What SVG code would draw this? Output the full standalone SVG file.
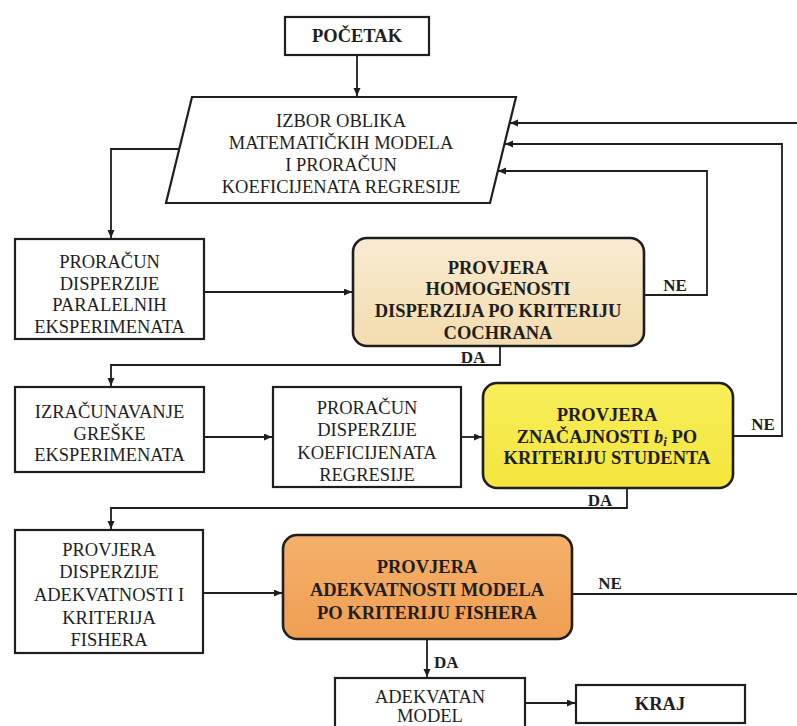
<svg xmlns="http://www.w3.org/2000/svg" width="797" height="726" viewBox="0 0 797 726">
<defs>
<marker id="arr" markerUnits="userSpaceOnUse" markerWidth="9" markerHeight="8" refX="8" refY="3.5" orient="auto">
<path d="M0,0 L8,3.5 L0,7 z" fill="#1e1e1e"/>
</marker>
<linearGradient id="gC" x1="0" y1="0" x2="0" y2="1">
<stop offset="0" stop-color="#f9ecd3"/><stop offset="1" stop-color="#f3dcae"/>
</linearGradient>
<linearGradient id="gS" x1="0" y1="0" x2="0" y2="1">
<stop offset="0" stop-color="#f7ee5a"/><stop offset="1" stop-color="#f3e63c"/>
</linearGradient>
<linearGradient id="gF" x1="0" y1="0" x2="0" y2="1">
<stop offset="0" stop-color="#f4b06a"/><stop offset="1" stop-color="#f09f52"/>
</linearGradient>
</defs>
<style>
.box{fill:#fff;stroke:#1e1e1e;stroke-width:2.2}
.rbox{stroke:#1e1e1e;stroke-width:2.6}
.t{font-family:"Liberation Serif","Times New Roman",serif;font-size:18.5px;fill:#1e1e1e;text-anchor:middle}
.b{font-weight:bold}
.lbl{font-family:"Liberation Serif","Times New Roman",serif;font-size:17px;font-weight:bold;fill:#1e1e1e}
.c{fill:none;stroke:#1e1e1e;stroke-width:1.8}
.ca{fill:none;stroke:#1e1e1e;stroke-width:1.8;marker-end:url(#arr)}
</style>
<rect width="797" height="726" fill="#ffffff"/>

<g id="connectors">
<path class="ca" d="M357,55 V96"/>
<path class="ca" d="M179,149 H111 V238"/>
<path class="ca" d="M204,292 H352"/>
<path class="ca" d="M644,295 H707 V171 H498"/>
<path class="ca" d="M500,346 V365 H111 V386"/>
<path class="ca" d="M204,437 H272"/>
<path class="ca" d="M461,437 H482"/>
<path class="ca" d="M733,436 H782 V144 H505"/>
<path class="ca" d="M627,488 V508 H111 V529"/>
<path class="ca" d="M203,593 H282"/>
<path class="ca" d="M572,594 H802 V123 H510"/>
<path class="ca" d="M427,639 V677"/>
<path class="ca" d="M525,703 H575"/>
<text class="lbl" x="675" y="291" text-anchor="middle">NE</text>
<text class="lbl" x="763" y="430" text-anchor="middle">NE</text>
<text class="lbl" x="610" y="589" text-anchor="middle">NE</text>
<text class="lbl" x="473" y="363" text-anchor="middle">DA</text>
<text class="lbl" x="600" y="506" text-anchor="middle">DA</text>
<text class="lbl" x="434" y="668">DA</text>
</g>

<g id="pocetak">
<rect class="box" x="285" y="17" width="144" height="38"/>
<text class="t b" x="357" y="42">POČETAK</text>
</g>

<g id="izbor">
<polygon class="box" points="192,97 516,97 490,203 166,203"/>
<text class="t" x="341" y="127">IZBOR OBLIKA</text>
<text class="t" x="341" y="149">MATEMATIČKIH MODELA</text>
<text class="t" x="341" y="171">I PRORAČUN</text>
<text class="t" x="341" y="193">KOEFICIJENATA REGRESIJE</text>
</g>

<g id="proracun-disp">
<rect class="box" x="15" y="239" width="189" height="100"/>
<text class="t" x="109.5" y="268">PRORAČUN</text>
<text class="t" x="109.5" y="290">DISPERZIJE</text>
<text class="t" x="109.5" y="311">PARALELNIH</text>
<text class="t" x="109.5" y="333">EKSPERIMENATA</text>
</g>

<g id="cochrana">
<rect class="rbox" x="353" y="238" width="291" height="108" rx="14" fill="url(#gC)"/>
<text class="t b" x="498" y="274">PROVJERA</text>
<text class="t b" x="498" y="295">HOMOGENOSTI</text>
<text class="t b" x="498" y="317">DISPERZIJA PO KRITERIJU</text>
<text class="t b" x="498" y="339">COCHRANA</text>
</g>

<g id="izracunavanje">
<rect class="box" x="15" y="387" width="189" height="85"/>
<text class="t" x="109.5" y="418">IZRAČUNAVANJE</text>
<text class="t" x="109.5" y="440">GREŠKE</text>
<text class="t" x="109.5" y="461">EKSPERIMENATA</text>
</g>

<g id="proracun-koef">
<rect class="box" x="273" y="387" width="188" height="100"/>
<text class="t" x="367" y="414">PRORAČUN</text>
<text class="t" x="367" y="436">DISPERZIJE</text>
<text class="t" x="367" y="459">KOEFICIJENATA</text>
<text class="t" x="367" y="481">REGRESIJE</text>
</g>

<g id="student">
<rect class="rbox" x="483" y="383" width="250" height="105" rx="14" fill="url(#gS)"/>
<text class="t b" x="607" y="421">PROVJERA</text>
<text class="t b" x="607" y="443">ZNAČAJNOSTI <tspan font-style="italic">b<tspan font-size="13px" baseline-shift="-3">i</tspan></tspan> PO</text>
<text class="t b" x="607" y="464">KRITERIJU STUDENTA</text>
</g>

<g id="provjera-disp">
<rect class="box" x="15" y="530" width="188" height="123"/>
<text class="t" x="109" y="556">PROVJERA</text>
<text class="t" x="109" y="578">DISPERZIJE</text>
<text class="t" x="109" y="601">ADEKVATNOSTI I</text>
<text class="t" x="109" y="624">KRITERIJA</text>
<text class="t" x="109" y="646">FISHERA</text>
</g>

<g id="fishera">
<rect class="rbox" x="283" y="535" width="289" height="104" rx="14" fill="url(#gF)"/>
<text class="t b" x="427" y="573">PROVJERA</text>
<text class="t b" x="427" y="596">ADEKVATNOSTI MODELA</text>
<text class="t b" x="427" y="619">PO KRITERIJU FISHERA</text>
</g>

<g id="adekvatan">
<rect class="box" x="335" y="678" width="190" height="60"/>
<text class="t" x="430" y="703">ADEKVATAN</text>
<text class="t" x="430" y="722">MODEL</text>
</g>

<g id="kraj">
<rect class="box" x="576" y="685" width="169" height="38"/>
<text class="t b" x="660" y="710">KRAJ</text>
</g>
</svg>
